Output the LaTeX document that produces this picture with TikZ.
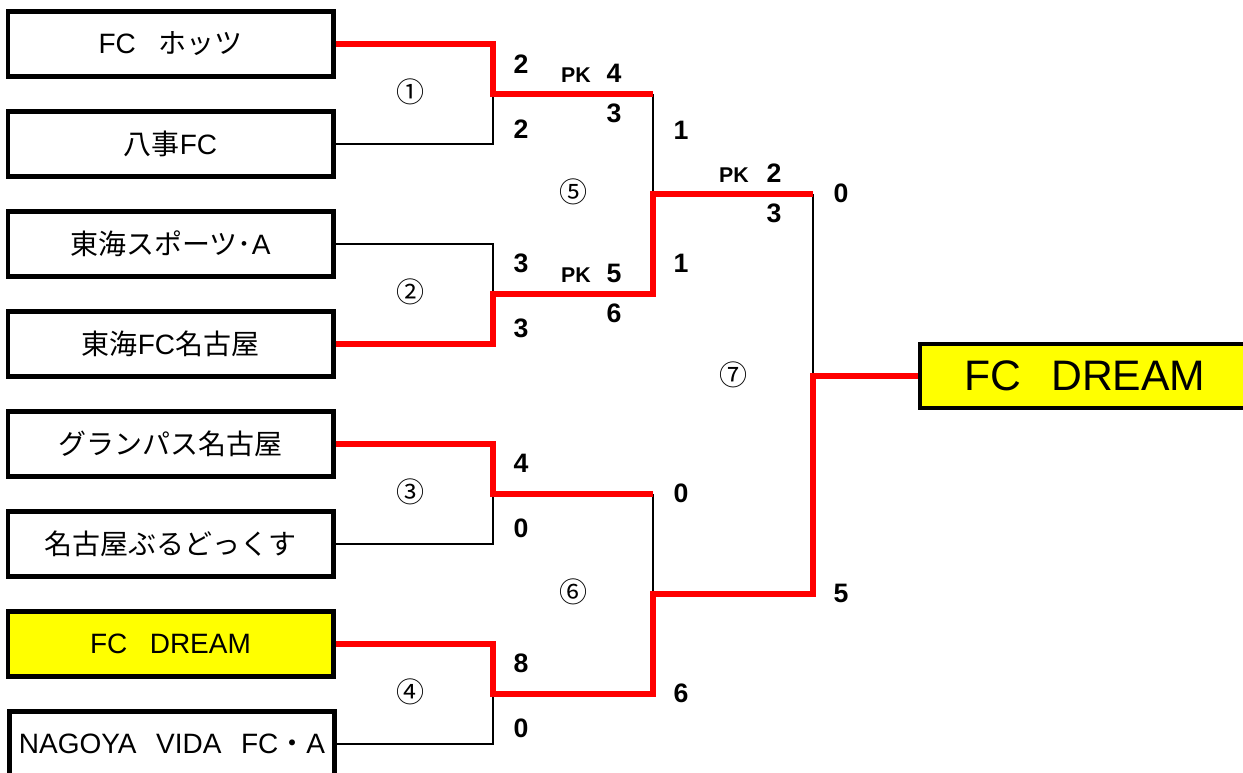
\documentclass[tikz,border=0pt]{standalone}
\usepackage{fontspec}
\setmainfont{Liberation Sans}
\newfontfamily\jp{Noto Sans CJK JP}
\definecolor{winyellow}{RGB}{255,255,0}
\begin{document}
\begin{tikzpicture}[x=0.75pt,y=-0.75pt,
  team/.style={draw,line width=3.5pt,minimum width=244pt,minimum height=49pt,inner sep=0pt,font=\fontsize{21}{24}\selectfont},
  champ/.style={team,fill=winyellow},
  won/.style={red,line width=4pt},
  lost/.style={black,line width=1.5pt},
  score/.style={inner sep=0pt,font=\fontsize{20}{24}\selectfont\bfseries},
  pk/.style={inner sep=0pt,font=\fontsize{16}{18}\selectfont\bfseries},
  game/.style={inner sep=0pt,font=\jp\fontsize{21}{22}\selectfont}]
  \useasboundingbox (0,0) rectangle (1243,772);

  % teams
  \node[team] (t1) at (170.5,44) {FC\hspace{0.8em}{\jp ホッツ}};
  \node[team] (t2) at (170.5,144) {{\jp 八事}FC};
  \node[team] (t3) at (170.5,244) {{\jp 東海スポーツ･}A};
  \node[team] (t4) at (170.5,344) {{\jp 東海}FC{\jp 名古屋}};
  \node[team] (t5) at (170.5,444) {\jp グランパス名古屋};
  \node[team] (t6) at (170.5,544) {\jp 名古屋ぶるどっくす};
  \node[champ] (t7) at (170.5,644) {FC\hspace{0.8em}DREAM};
  \node[team] (t8) at (172,744) {NAGOYA\hspace{0.7em}VIDA\hspace{0.7em}FC{\jp ・}A};
  \node[champ,minimum width=247.5pt,minimum height=48pt,font=\fontsize{32}{36}\selectfont] (win) at (1085,376) {FC\hspace{0.7em}DREAM};

  % joins
  \coordinate (m1) at (493,94);
  \coordinate (m2) at (493,294);
  \coordinate (m3) at (493,494);
  \coordinate (m4) at (493,694);
  \coordinate (s1) at (653,94);
  \coordinate (s2) at (653,294);
  \coordinate (s3) at (653,494);
  \coordinate (s4) at (653,694);
  \coordinate (m5) at (653,194);
  \coordinate (m6) at (653,594);
  \coordinate (s5) at (813,194);
  \coordinate (s6) at (813,594);
  \coordinate (m7) at (813,376);

  \draw[lost] (t2.east) -| (m1);
  \draw[lost] (t3.east) -| (m2);
  \draw[lost] (t6.east) -| (m3);
  \draw[lost] (t8.east) -| (m4);
  \draw[lost] (s1) -- (m5);
  \draw[lost] (s3) -- (m6);
  \draw[lost] (s5) -- (m7);

  \draw[won] (t1.east) -| (m1) -- (s1);
  \draw[won] (t4.east) -| (m2) -- (s2) -- (m5) -- (s5);
  \draw[won] (t5.east) -| (m3) -- (s3);
  \draw[won] (t7.east) -| (m4) -- (s4) -- (m6) -- (s6) -- (m7) -- (win.west);

  % scores
  \node[score] (a1) at (521,64) {2};
  \node[score] (a2) at (521,129) {2};
  \node[pk] (p1) at (576,75) {PK};
  \node[score] (a3) at (614,73) {4};
  \node[score] (a4) at (614,113) {3};
  \node[game] (n1) at (410,92) {①};

  \node[score] (b1) at (521,263) {3};
  \node[score] (b2) at (521,328) {3};
  \node[pk] (p2) at (576,275) {PK};
  \node[score] (b3) at (614,273) {5};
  \node[score] (b4) at (614,313) {6};
  \node[game] (n2) at (410,292) {②};

  \node[score] (c1) at (521,463) {4};
  \node[score] (c2) at (521,528) {0};
  \node[score] (c3) at (681,493) {0};
  \node[game] (n3) at (410,492) {③};

  \node[score] (d1) at (521,663) {8};
  \node[score] (d2) at (521,728) {0};
  \node[score] (d3) at (681,693) {6};
  \node[game] (n4) at (410,692) {④};

  \node[score] (e1) at (681,130) {1};
  \node[score] (e2) at (681,263) {1};
  \node[pk] (p3) at (734,175) {PK};
  \node[score] (e3) at (774,173) {2};
  \node[score] (e4) at (774,213) {3};
  \node[score] (e5) at (841,193) {0};
  \node[game] (n5) at (573,192) {⑤};

  \node[score] (f1) at (841,593) {5};
  \node[game] (n6) at (573,592) {⑥};
  \node[game] (n7) at (733,375) {⑦};
\end{tikzpicture}
\end{document}
